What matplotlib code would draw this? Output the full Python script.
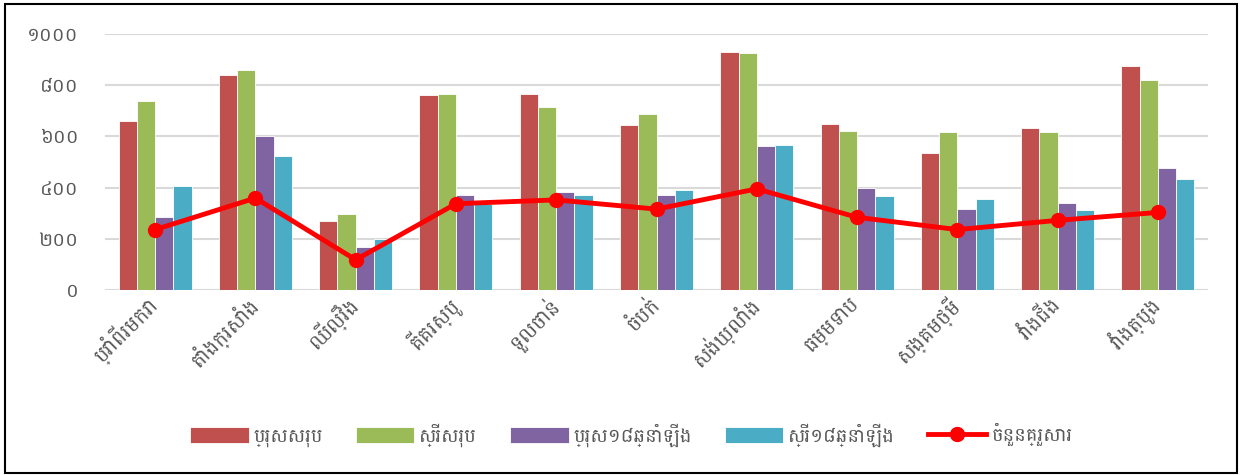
import os
import numpy as np
import matplotlib
matplotlib.use('Agg')
import matplotlib.pyplot as plt
from matplotlib import font_manager
from matplotlib.patches import Rectangle

# Khmer font (Battambang from google-fonts), DejaVu as fallback
KHMER_FONT = '/usr/share/fonts/truetype/google-fonts/Battambang-Regular.ttf'
families = ['DejaVu Sans']
if os.path.exists(KHMER_FONT):
    font_manager.fontManager.addfont(KHMER_FONT)
    families.insert(0, font_manager.FontProperties(fname=KHMER_FONT).get_name())
plt.rcParams['font.family'] = families

# ── data ──
communes = ['ប្រាំពីរមករា', 'តាំងក្រសាំង', 'ឈើល្វឹង', 'គីគរស្បូ', 'ទួលចាន់', 'ចំបក់',
            'សង់ឃ្លាំង', 'ធម្មទាប', 'សង្គមថ្មី', 'វាំងជើង', 'វាំងត្បូង']
male_total   = [660, 840, 270, 762, 764, 645, 930, 650, 536, 633, 875]
female_total = [737, 859, 297, 764, 715, 689, 924, 620, 616, 616, 821]
male_18      = [286, 600, 168, 371, 383, 372, 561, 397, 318, 339, 477]
female_18    = [406, 523, 199, 334, 371, 392, 566, 367, 357, 314, 435]
households   = [236, 359, 118, 337, 352, 316, 395, 284, 236, 272, 303]
series_names = ['ប្រុសសរុប', 'ស្រីសរុប', 'ប្រុស១៨ឆ្នាំឡើង', 'ស្រី១៨ឆ្នាំឡើង']
line_name = 'ចំនួនគ្រួសារ'
yticks = [0, 200, 400, 600, 800, 1000]
ytick_labels = ['០', '២០០', '៤០០', '៦០០', '៨០០', '១០០០']

colors = ['#C0504D', '#9BBB59', '#8064A2', '#4BACC6']

fig = plt.figure(figsize=(12.43, 4.75), dpi=100)
fig.patches.append(Rectangle((5/1243, 2/475), 1232/1243, 469/475, transform=fig.transFigure,
                             fill=False, edgecolor='black', lw=1.5))
ax = fig.add_axes([105/1243, 1 - 290/475, 1103/1243, 256/475])

x = np.arange(len(communes))
w = 0.182
for i, (vals, c, name) in enumerate(zip([male_total, female_total, male_18, female_18], colors, series_names)):
    ax.bar(x + (i - 1.5) * w, vals, w, color=c, edgecolor='white', lw=0.6, label=name, zorder=2)
ax.plot(x, households, color='#FF0000', lw=3.5, marker='o', ms=10, label=line_name, zorder=3)

ax.set_xlim(-0.5, len(communes) - 0.5)
ax.set_ylim(0, 1000)
ax.set_yticks(yticks)
ax.set_yticklabels(ytick_labels, fontsize=14, color='#595959')
ax.tick_params(axis='y', length=0, pad=19)
ax.set_xticks(x)
ax.set_xticklabels(communes, rotation=45, ha='right', va='center', rotation_mode='anchor',
                   fontsize=15, color='#595959')
ax.tick_params(axis='x', length=0, pad=8)
ax.grid(axis='y', color='#D9D9D9', lw=1.5, zorder=0)
ax.set_axisbelow(True)
for s in ax.spines.values():
    s.set_visible(False)

# bars first, line last, as in the original legend
handles, labels = ax.get_legend_handles_labels()
handles = handles[1:] + handles[:1]
labels = labels[1:] + labels[:1]
ax.legend(handles, labels, loc='center', bbox_to_anchor=(0.508, 1 - 435/475),
          bbox_transform=fig.transFigure, ncol=5, frameon=False, fontsize=14,
          handlelength=3.0, handleheight=0.9, columnspacing=1.7, handletextpad=0.25,
          labelcolor='#595959')

plt.savefig('out.png', dpi=100)
